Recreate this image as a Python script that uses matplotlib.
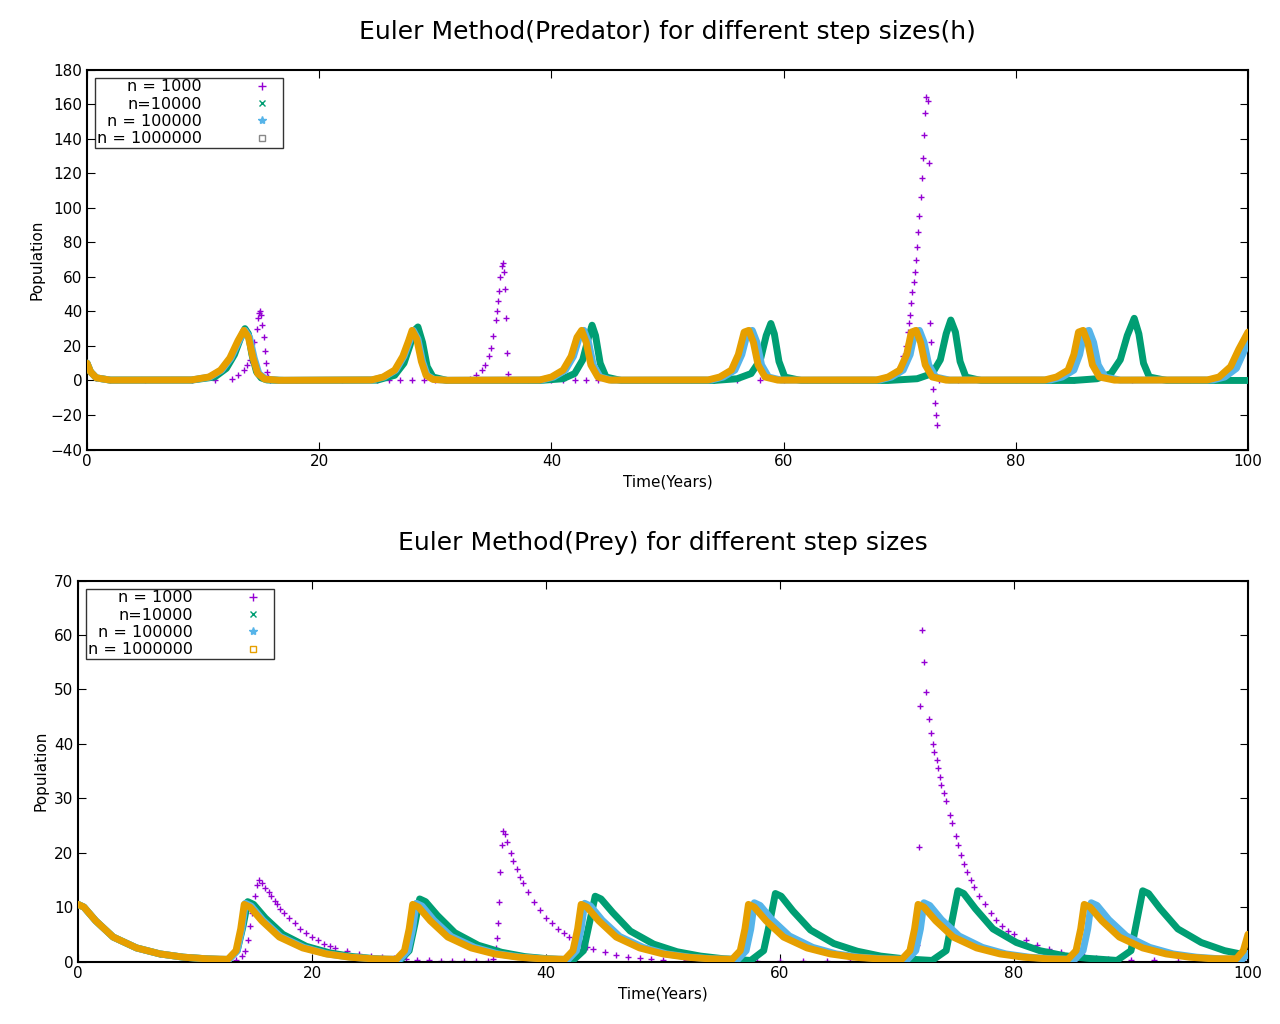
import matplotlib
matplotlib.use("Agg")
import matplotlib.pyplot as plt
from matplotlib.lines import Line2D

C_PURPLE = '#9400d3'; C_GREEN = '#009e73'; C_BLUE = '#56b4e9'; C_ORANGE = '#e69f00'

# ---------------- Predator data (time, population) ----------------
pred_n1000 = [(0,10),(0.3,5),(0.8,1.5),(2,0.2),(5,0),(9,0.2),(11,0.5),(12.5,1),(13,3),(13.5,6),(13.8,9),(14,12),(14.2,16),(14.4,22),
              (14.6,30),(14.7,36),(14.8,39),(14.9,40),(15,38),(15.1,32),(15.2,25),(15.3,17),(15.4,10),(15.5,5),(15.6,2),(15.8,0.5),
              (18,0),(22,0),(25,0),(26,0),(27,0),(28,0),(29,0),(30,0),(31,0),(32,0.3),(33,1),(33.5,3),(34,6),(34.3,9),(34.6,14),(34.8,19),
              (35,26),(35.2,35),(35.3,40),(35.4,46),(35.5,52),(35.6,60),(35.7,66),(35.8,68),(35.9,63),(36,53),(36.1,36),(36.2,16),
              (36.3,4),(36.5,0.5),(37,0),(38,0),(39,0),(40,0),(41,0),(42,0),(43,0),(44,0),(46,0),(48,0),(50,0),(52,0),(54,0),(56,0),(58,0),
              (60,0),(62,0),(64,0),(66,0),(68,0.3),(69,1),(69.5,3),(70,8),(70.3,14),(70.5,20),(70.7,28),(70.8,33),(70.9,38),
              (71,45),(71.1,51),(71.2,57),(71.3,63),(71.4,70),(71.5,77),(71.6,86),(71.7,95),(71.8,106),(71.9,117),(72,129),
              (72.1,142),(72.2,155),(72.3,164),(72.4,162),(72.5,126),(72.6,33),(72.7,22),(72.8,5),(72.9,-5),(73,-13),(73.1,-20),
              (73.2,-26),(73.4,0),(75,0),(80,0),(85,0),(90,0),(95,0),(100,0)]
pred_n10000 = [(0,10),(0.3,5),(0.8,1.5),(2,0.2),(9,0.2),(11,2),(12,7),(12.7,15),(13.2,24),(13.6,30),(13.9,27),(14.2,15),(14.6,5),
               (15,1.5),(15.5,0.3),(17,0),(25,0.2),(26.5,3),(27.3,10),(27.8,20),(28.2,29),(28.5,31),(28.9,22),(29.3,8),(29.8,2),
               (31,0),(39,0),(41,1),(42,4),(42.7,12),(43.2,25),(43.5,32),(43.8,26),(44.2,10),(44.7,2),(46,0),(54,0),(56,1),
               (57.2,4),(58,12),(58.5,26),(58.9,33),(59.2,27),(59.6,11),(60.1,2),(61.5,0),(69,0),(71.5,1),(72.8,4),(73.5,12),
               (74,27),(74.4,35),(74.8,28),(75.2,11),(75.7,2),(77,0),(85,0),(87,1),(88.2,4),(89,12),(89.6,26),(90.2,36),(90.6,27),
               (91,10),(91.5,2),(93,0),(100,0)]
pred_n100000 = [(0,10),(0.3,5),(0.8,1.5),(2,0.2),(9,0.3),(10.6,2),(11.6,6),(12.4,13),(13.1,23),(13.6,29),(14,25),(14.4,13),(14.8,4),
                (15.4,0.8),(16.6,0.1),(24.6,0.3),(25.6,2),(26.6,6),(27.3,14),(27.8,23),(28.1,29),(28.5,24),(28.9,11),(29.3,3),
                (29.9,0.6),(31.1,0.1),(39.2,0.3),(40.2,2),(41.2,6),(41.9,14),(42.4,25),(42.8,29),(43.2,22),(43.6,9),(44.2,2),
                (45.2,0.2),(53.8,0.3),(54.8,2),(55.8,6),(56.4,15),(56.9,28),(57.3,29),(57.7,22),(58.1,9),(58.7,2),(59.8,0.2),
                (68.3,0.3),(69.3,2),(70.3,6),(70.9,15),(71.3,28),(71.7,29),(72.1,22),(72.5,9),(73.1,2),(74.3,0.2),(83,0.3),
                (84,2),(85,6),(85.5,15),(85.9,28),(86.3,29),(86.7,22),(87.1,9),(87.7,2),(89,0.2),(97,0.3),(98,2),(99,7),(100,22)]
pred_n1000000 = [(0,10),(0.3,5),(0.8,1.5),(2,0.2),(9,0.3),(10.5,2),(11.5,6),(12.3,13),(13,23),(13.5,29),(13.9,25),(14.3,13),
                 (14.7,4),(15.3,0.8),(16.5,0.1),(24.5,0.3),(25.5,2),(26.5,6),(27.2,14),(27.7,23),(28,29),(28.4,24),(28.8,11),
                 (29.2,3),(29.8,0.6),(31,0.1),(39,0.3),(40,2),(41,6),(41.7,14),(42.2,25),(42.6,29),(43,22),(43.4,9),(44,2),
                 (45,0.2),(53.5,0.3),(54.5,2),(55.5,6),(56.1,15),(56.6,28),(57,29),(57.4,22),(57.8,9),(58.4,2),(59.5,0.2),
                 (68,0.3),(69,2),(70,6),(70.6,15),(71,28),(71.4,29),(71.8,22),(72.2,9),(72.8,2),(74,0.2),(82.5,0.3),(83.5,2),
                 (84.5,6),(85,15),(85.4,28),(85.8,29),(86.2,22),(86.6,9),(87.2,2),(88.5,0.2),(96.5,0.3),(97.5,2),(98.5,8),
                 (99.2,18),(100,28)]

# ---------------- Prey data (time, population) ----------------
prey_n1000 = [(0,10.5),(0.5,10),(1.5,7.5),(3,4.5),(5,2.5),(7,1.4),(9,0.8),(11,0.5),(12.5,0.2),(13.5,0.3),(14,1),(14.3,2),
              (14.5,4),(14.7,6.5),(14.9,9),(15.1,12),(15.3,14),(15.5,15),(15.7,14.5),(16,13.5),(16.3,12.7),(16.5,12),(16.8,11.2),
              (17,10.5),(17.3,9.7),(17.6,9),(18,8),(18.5,7),(19,6),(19.5,5.2),(20,4.5),(20.5,3.9),(21,3.3),(21.5,2.9),(22,2.5),
              (23,1.9),(24,1.4),(25,1.1),(26,0.8),(27,0.6),(28,0.4),(29,0.3),(30,0.2),(31,0.1),(32,0.1),(33,0.1),(34,0.1),
              (35,0.1),(35.5,0.5),(35.7,2.5),(35.8,4.3),(35.9,7),(36,11),(36.1,16.5),(36.2,21.5),(36.3,24),(36.5,23.5),
              (36.7,22),(37,20),(37.2,18.5),(37.5,17),(37.8,15.5),(38,14.5),(38.5,12.7),(39,11),(39.5,9.5),(40,8),(40.5,7),
              (41,6),(41.5,5.2),(42,4.5),(42.5,3.8),(43,3.2),(43.5,2.7),(44,2.3),(45,1.7),(46,1.2),(47,0.9),(48,0.6),(49,0.4),
              (50,0.3),(52,0.2),(54,0.1),(56,0.1),(58,0.1),(60,0.1),(62,0.1),(64,0.1),(66,0.1),(68,0.1),(70,0.1),(71.3,0.5),
              (71.7,3),(71.9,21),(72,47),(72.1,61),(72.3,55),(72.5,49.5),(72.7,44.5),(72.9,42),(73.1,40),(73.2,38.5),(73.4,37),
              (73.5,35.5),(73.7,34),(73.8,32.5),(74,31),(74.2,29.5),(74.5,27),(74.7,25.5),(75,23),(75.2,21.5),(75.5,19.5),
              (75.7,18),(76,16.5),(76.3,15),(76.6,13.7),(77,12),(77.5,10.5),(78,9),(78.5,7.7),(79,6.5),(79.5,5.7),(80,5),
              (81,3.9),(82,3),(83,2.3),(84,1.8),(85,1.3),(86,1),(87,0.7),(88,0.5),(90,0.3),(92,0.2),(94,0.1),(96,0.1),
              (98,0.1),(100,0.1)]
prey_n10000 = [(0,10.5),(0.5,10),(1.5,7.5),(3,4.5),(5,2.5),(7,1.4),(9,0.8),(11,0.5),(12.8,0.3),(13.6,2),(14.1,6.5),(14.5,11),
               (15,10.5),(16,8),(17.5,5),(19.5,2.8),(21.5,1.6),(23.5,0.9),(25.5,0.5),(27.5,0.2),(28.3,2),(28.8,7),(29.2,11.5),
               (29.7,11),(30.7,8.5),(32.2,5.3),(34.2,3),(36.2,1.7),(38.2,0.9),(40.2,0.5),(42.3,0.2),(43.2,2),(43.7,7),(44.2,12),
               (44.7,11.5),(45.7,9),(47.2,5.6),(49.2,3.2),(51.2,1.8),(53.2,1),(55.2,0.5),(57.5,0.2),(58.6,2),(59.1,7),(59.6,12.5),
               (60.1,12),(61.1,9.3),(62.6,5.8),(64.6,3.3),(66.6,1.9),(68.6,1),(70.6,0.5),(73,0.2),(74.2,2),(74.7,7.5),(75.2,13),
               (75.7,12.5),(76.7,9.7),(78.2,6),(80.2,3.5),(82.2,2),(84.2,1.1),(86.2,0.6),(88.8,0.2),(90,2),(90.5,7.5),(91,13),
               (91.5,12.5),(92.5,9.7),(94,6),(96,3.5),(98,2),(100,1.1)]
prey_n100000 = [(0,10.5),(0.5,10),(1.5,7.5),(3,4.5),(5,2.5),(7,1.4),(9,0.8),(11,0.5),(12.9,0.4),(13.6,2),(14,6),(14.3,10.7),
                (14.8,10.2),(15.8,7.6),(17.3,4.6),(19.3,2.6),(21.3,1.4),(23.3,0.8),(25.3,0.5),(27.5,0.4),(28.2,2),(28.6,6),
                (28.9,10.7),(29.4,10.2),(30.4,7.6),(31.9,4.6),(33.9,2.6),(35.9,1.4),(37.9,0.8),(39.9,0.5),(41.9,0.4),(42.6,2),
                (43,6),(43.3,10.7),(43.8,10.2),(44.8,7.6),(46.3,4.6),(48.3,2.6),(50.3,1.4),(52.3,0.8),(54.3,0.5),(56.4,0.4),
                (57.1,2),(57.5,6),(57.8,10.8),(58.3,10.3),(59.3,7.7),(60.8,4.7),(62.8,2.6),(64.8,1.4),(66.8,0.8),(68.8,0.5),
                (70.9,0.4),(71.6,2),(72,6),(72.3,10.8),(72.8,10.3),(73.8,7.7),(75.3,4.7),(77.3,2.6),(79.3,1.4),(81.3,0.8),
                (83.3,0.5),(85.2,0.4),(85.9,2),(86.3,6),(86.6,10.8),(87.1,10.3),(88.1,7.7),(89.6,4.7),(91.6,2.6),(93.6,1.4),
                (95.6,0.8),(97.6,0.5),(99.5,0.4),(100,1.5)]
prey_n1000000 = [(0,10.5),(0.5,10),(1.5,7.5),(3,4.5),(5,2.5),(7,1.4),(9,0.8),(11,0.5),(12.8,0.4),(13.5,2),(13.9,6),(14.2,10.5),
                 (14.7,10),(15.7,7.5),(17.2,4.5),(19.2,2.5),(21.2,1.4),(23.2,0.8),(25.2,0.5),(27.2,0.4),(27.9,2),(28.3,6),
                 (28.6,10.5),(29.1,10),(30.1,7.5),(31.6,4.5),(33.6,2.5),(35.6,1.4),(37.6,0.8),(39.6,0.5),(41.6,0.4),(42.3,2),
                 (42.7,6),(43,10.5),(43.5,10),(44.5,7.5),(46,4.5),(48,2.5),(50,1.4),(52,0.8),(54,0.5),(55.9,0.4),(56.6,2),
                 (57,6),(57.3,10.5),(57.8,10),(58.8,7.5),(60.3,4.5),(62.3,2.5),(64.3,1.4),(66.3,0.8),(68.3,0.5),(70.4,0.4),
                 (71.1,2),(71.5,6),(71.8,10.5),(72.3,10),(73.3,7.5),(74.8,4.5),(76.8,2.5),(78.8,1.4),(80.8,0.8),(82.8,0.5),
                 (84.6,0.4),(85.3,2),(85.7,6),(86,10.5),(86.5,10),(87.5,7.5),(89,4.5),(91,2.5),(93,1.4),(95,0.8),(97,0.5),
                 (99,0.5),(99.6,2),(100,5)]

labels = ['n = 1000', 'n=10000', 'n = 100000', 'n = 1000000']

fig = plt.figure(figsize=(12.8, 10.24), dpi=100)
ax1 = fig.add_axes([0.068, 0.561, 0.907, 0.371])
ax2 = fig.add_axes([0.061, 0.061, 0.914, 0.372])

def draw(ax, series):
    d0, d1, d2, d3 = series
    t, y = zip(*d0)
    ax.plot(t, y, linestyle='none', marker='+', color=C_PURPLE, ms=5, mew=1, zorder=2)
    for d, c in ((d1, C_GREEN), (d2, C_BLUE), (d3, C_ORANGE)):
        t, y = zip(*d)
        ax.plot(t, y, color=c, lw=5, solid_capstyle='round', zorder=3)

def style(ax, title, ylim, yticks, last_color):
    ax.set_xlim(0, 100)
    ax.set_ylim(*ylim)
    ax.set_xticks(range(0, 101, 20))
    ax.set_yticks(yticks)
    ax.tick_params(direction='in', top=True, right=True, labelsize=11, length=6)
    for s in ax.spines.values():
        s.set_linewidth(1.5)
    ax.set_xlabel('Time(Years)', fontsize=11)
    ax.set_ylabel('Population', fontsize=11)
    ax.set_title(title, fontsize=18, pad=22)
    handles = [Line2D([], [], ls='none', marker='+', color=C_PURPLE, ms=6),
               Line2D([], [], ls='none', marker='x', color=C_GREEN, ms=5),
               Line2D([], [], ls='none', marker='*', color=C_BLUE, ms=6),
               Line2D([], [], ls='none', marker='s', mfc='none', color=last_color, ms=5)]
    leg = ax.legend(handles, labels, loc='upper left', markerfirst=False, fontsize=11.5,
                    frameon=True, fancybox=False, borderpad=0.1, labelspacing=0.15,
                    handletextpad=2.5, borderaxespad=0.5, handlelength=2.5)
    leg.get_frame().set_edgecolor('black')
    leg.get_frame().set_linewidth(1)

draw(ax1, (pred_n1000, pred_n10000, pred_n100000, pred_n1000000))
style(ax1, 'Euler Method(Predator) for different step sizes(h)', (-40, 180), range(-40, 181, 20), '#888888')
draw(ax2, (prey_n1000, prey_n10000, prey_n100000, prey_n1000000))
style(ax2, 'Euler Method(Prey) for different step sizes', (0, 70), range(0, 71, 10), C_ORANGE)

fig.savefig('out.png', dpi=100)
